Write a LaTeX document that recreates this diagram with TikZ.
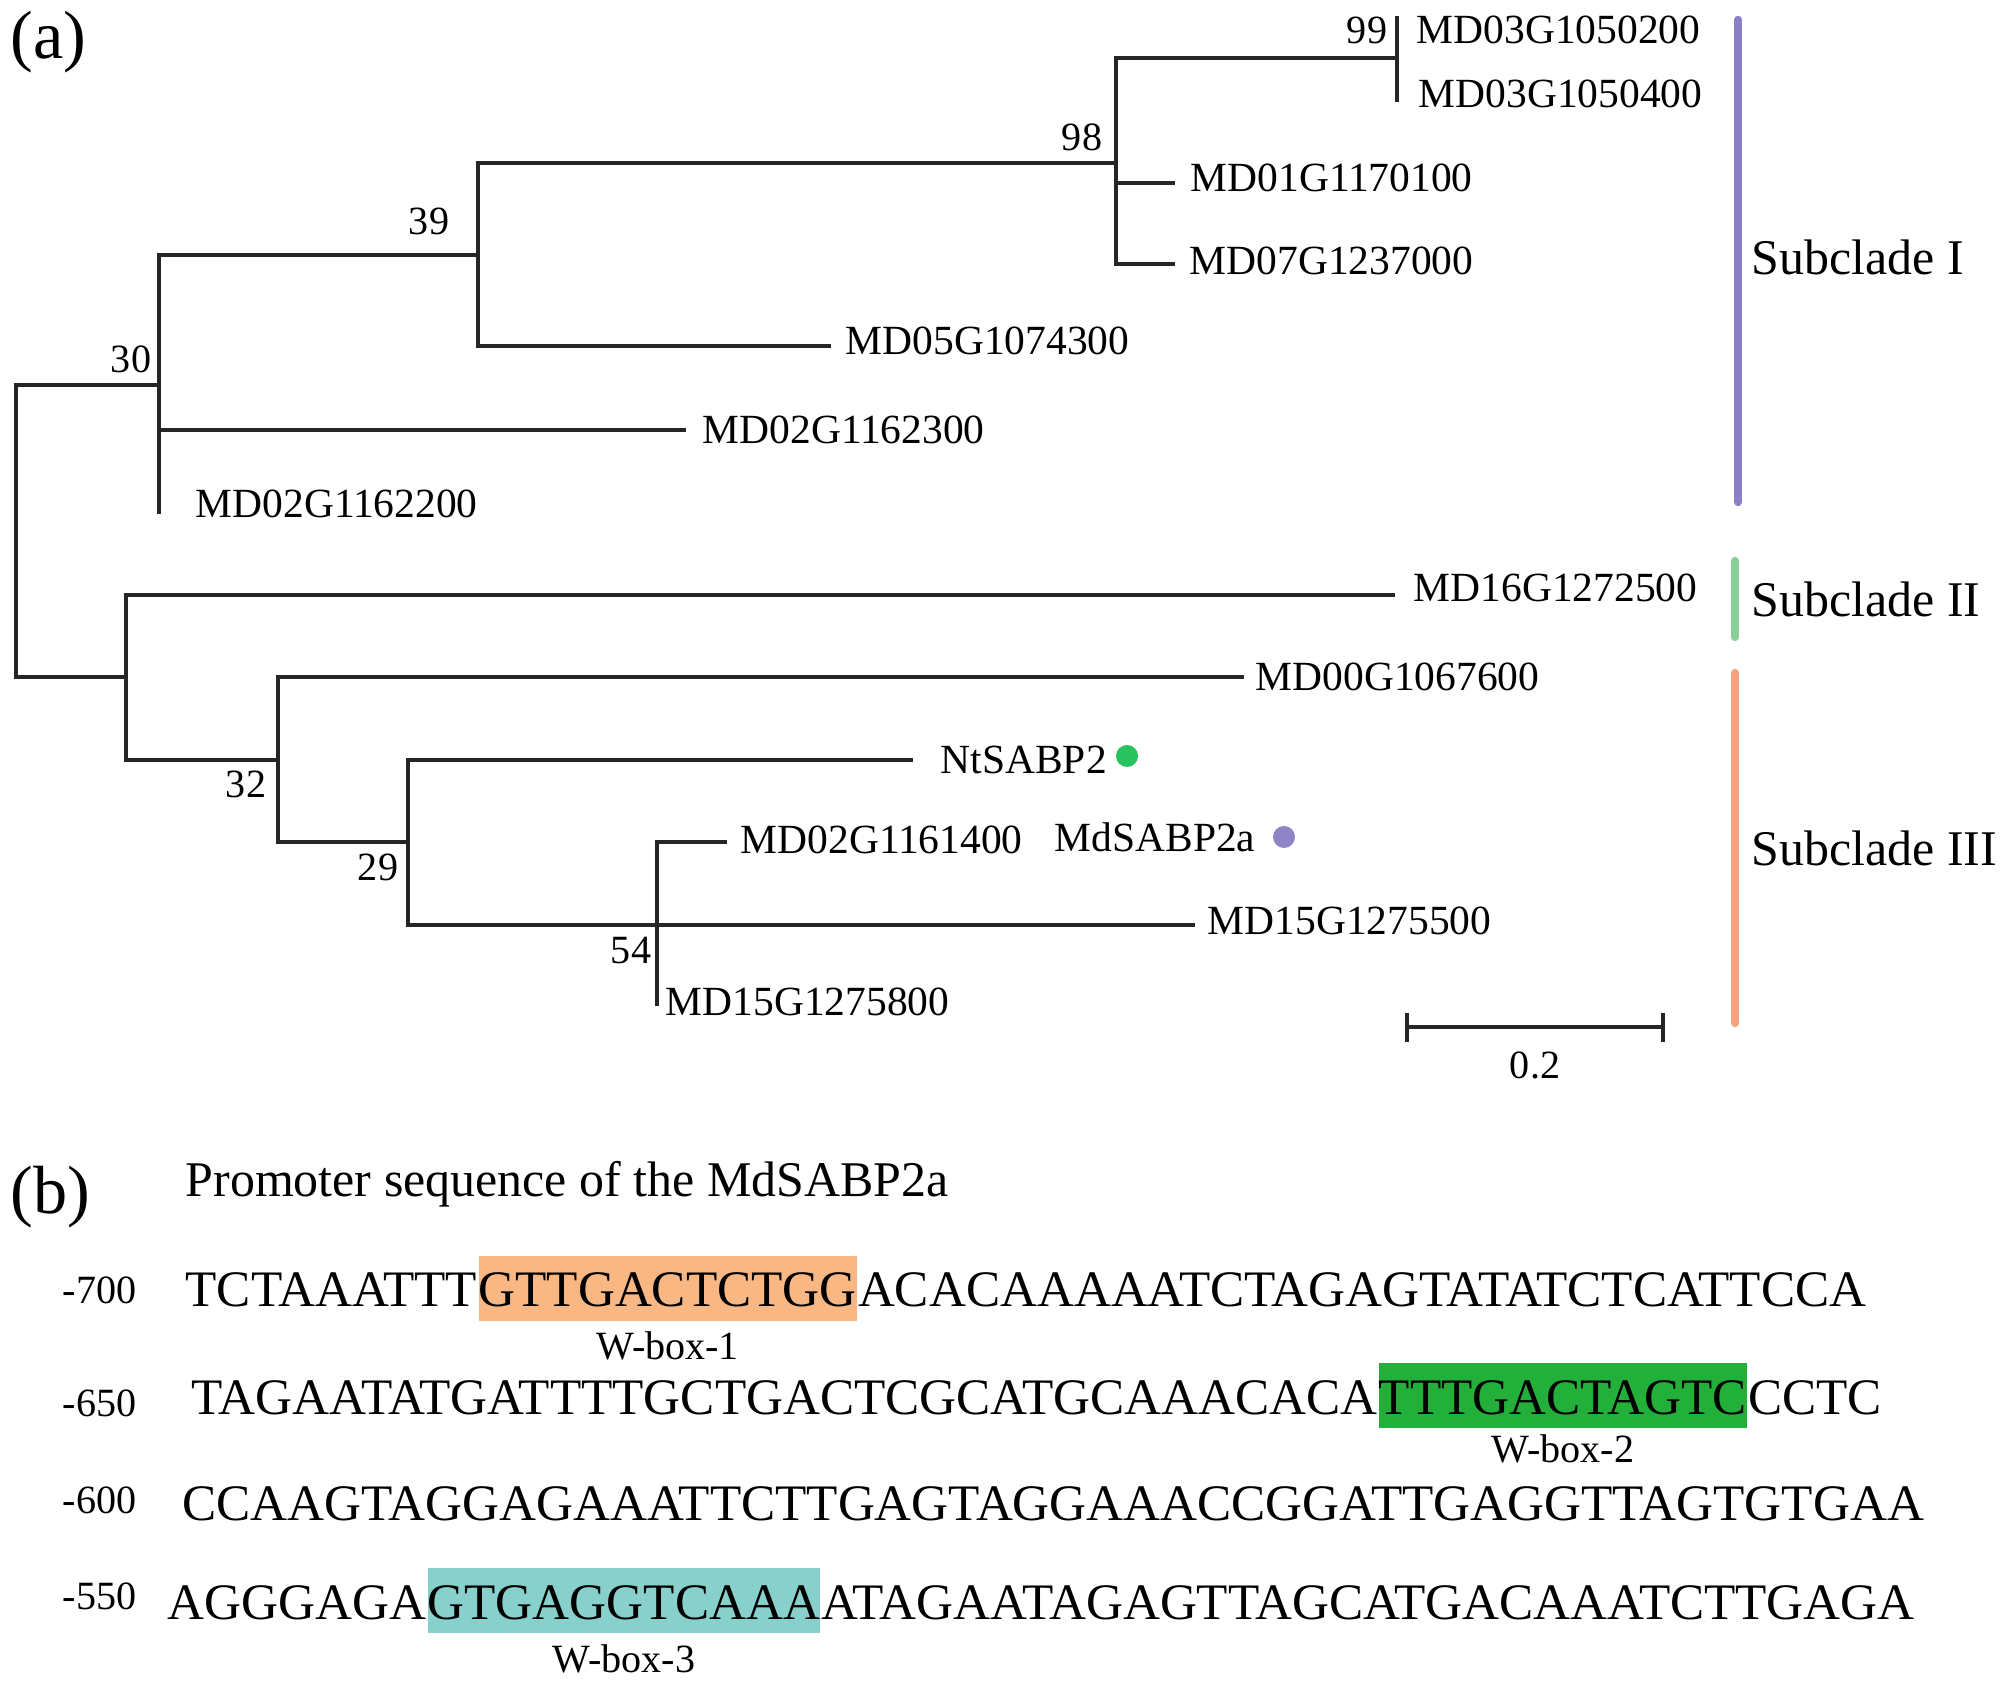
\documentclass[tikz,border=0pt]{standalone}
\usepackage{fontspec}
\setmainfont{Liberation Serif}
\usetikzlibrary{positioning}
\definecolor{cladeOne}{HTML}{8B80C8}
\definecolor{cladeTwo}{HTML}{88CF98}
\definecolor{cladeThree}{HTML}{F6A17F}
\definecolor{dotGreen}{HTML}{27C35F}
\definecolor{dotPurple}{HTML}{8E84C6}
\definecolor{boxOrange}{HTML}{F9B784}
\definecolor{boxGreen}{HTML}{22B03A}
\definecolor{boxTeal}{HTML}{88D0CB}
\newcommand{\smallsz}{\fontsize{11.4}{13}\selectfont}
\newcommand{\leafsz}{\fontsize{11.8}{13}\selectfont}
\newcommand{\bigsz}{\fontsize{14.2}{17}\selectfont}
\newcommand{\seqsz}{\fontsize{14.55}{17}\selectfont}
\newcommand{\panelsz}{\fontsize{19.4}{22}\selectfont}

\begin{document}
\begin{tikzpicture}[x=0.01cm,y=-0.01cm,
  branch/.style={line width=1.1pt,draw=black!85},
  leaf/.style={anchor=west,inner sep=0pt,font=\leafsz},
  boot/.style={inner sep=0pt,font=\smallsz},
  cladebar/.style={line width=2.4pt,line cap=round},
  cladelab/.style={anchor=west,inner sep=0pt,font=\bigsz},
  seqtxt/.style={anchor=base west,inner sep=0pt,font=\seqsz},
  wbox/.style={seqtxt,text height=0.51cm,text depth=0.14cm},
  wlab/.style={inner sep=0pt,font=\smallsz},
  poslab/.style={anchor=base east,inner sep=0pt,font=\smallsz},
  tag/.style={circle,inner sep=0pt,minimum size=0.22cm}]
  \useasboundingbox (0,0) rectangle (2000,1683);

  % (a) tree
  \node[anchor=base west,inner sep=0pt,font=\panelsz] (pa) at (10,59) {(a)};
  \coordinate (root) at (16,531);
  \coordinate (n30) at (159,385);
  \coordinate (n39) at (478,255);
  \coordinate (n98) at (1116,163);
  \coordinate (n99) at (1397,58);
  \coordinate (nB) at (126,677);
  \coordinate (n32) at (278,760);
  \coordinate (n29) at (408,842);
  \coordinate (n54) at (657,925);
  \coordinate (e0200) at (1397,16);
  \coordinate (e0400) at (1397,102);
  \coordinate (e0100) at (1175,183);
  \coordinate (e0700) at (1175,264);
  \coordinate (e4300) at (831,346);
  \coordinate (e2300) at (686,430);
  \coordinate (e2200) at (159,514);
  \coordinate (e2500) at (1395,595);
  \coordinate (e7600) at (1244,677);
  \coordinate (eNt) at (913,760);
  \coordinate (e1400) at (727,842);
  \coordinate (e5500) at (1195,925);
  \coordinate (e5800) at (657,1006);

  \foreach \a/\b in {root/n30,root/nB,n30/n39,n30/e2300,n30/e2200,
                     n39/n98,n39/e4300,n98/n99,n98/e0100,n98/e0700,
                     n99/e0200,n99/e0400,nB/e2500,nB/n32,n32/e7600,
                     n32/n29,n29/eNt,n29/n54,n54/e1400,n54/e5500,n54/e5800}
    \draw[branch] (\a) |- (\b);

  \node[leaf] (g0200) at (1416,30) {MD03G1050200};
  \node[leaf] (g0400) at (1418,94) {MD03G1050400};
  \node[leaf,right=0.15cm of e0100,yshift=0.05cm] (g0100) {MD01G1170100};
  \node[leaf,right=0.14cm of e0700,yshift=0.03cm] (g0700) {MD07G1237000};
  \node[leaf,right=0.14cm of e4300,yshift=0.05cm] (g4300) {MD05G1074300};
  \node[leaf,right=0.16cm of e2300] (g2300) {MD02G1162300};
  \node[leaf] (g2200) at (195,504) {MD02G1162200};
  \node[leaf] (g2500) at (1413,588) {MD16G1272500};
  \node[leaf,right=0.11cm of e7600] (g7600) {MD00G1067600};
  \node[leaf,right=0.27cm of eNt] (gNt) {NtSABP2};
  \node[leaf,right=0.13cm of e1400,yshift=0.02cm] (g1400) {MD02G1161400};
  \node[leaf] (gMd) at (1054,837) {MdSABP2a};
  \node[leaf,right=0.12cm of e5500,yshift=0.04cm] (g5500) {MD15G1275500};
  \node[leaf] (g5800) at (665,1002) {MD15G1275800};
  \node[tag,fill=dotGreen] (dNt) at (1127,756) {};
  \node[tag,fill=dotPurple] (dMd) at (1284,837) {};

  \node[boot] (b30) at (131,359) {30};
  \node[boot] (b39) at (429,221) {39};
  \node[boot] (b98) at (1082,137) {98};
  \node[boot] (b99) at (1367,30) {99};
  \node[boot] (b32) at (246,784) {32};
  \node[boot] (b29) at (378,867) {29};
  \node[boot] (b54) at (631,951) {54};

  % subclade bars
  \draw[cladebar,cladeOne] (1738,20) -- (1738,502);
  \draw[cladebar,cladeTwo] (1735,561) -- (1735,637);
  \draw[cladebar,cladeThree] (1735,673) -- (1735,1023);
  \node[cladelab] (cl1) at (1751,257) {Subclade I};
  \node[cladelab] (cl2) at (1751,599) {Subclade II};
  \node[cladelab] (cl3) at (1751,848) {Subclade III};

  % scale bar
  \coordinate (sbL) at (1407,1027);
  \coordinate (sbR) at (1663,1027);
  \draw[branch] (sbL) -- (sbR);
  \draw[branch] ([yshift=0.14cm]sbL) -- ([yshift=-0.15cm]sbL);
  \draw[branch] ([yshift=0.14cm]sbR) -- ([yshift=-0.15cm]sbR);
  \path (sbL) -- (sbR) node[midway,below=0.24cm,boot] (sblab) {0.2};

  % (b) promoter
  \node[anchor=base west,inner sep=0pt,font=\panelsz] (pb) at (10,1213) {(b)};
  \node[anchor=base west,inner sep=0pt,font=\bigsz] (title) at (185,1196)
    {Promoter sequence of the MdSABP2a};

  \node[poslab] (p700) at (137,1304) {-700};
  \node[poslab] (p650) at (137,1416) {-650};
  \node[poslab] (p600) at (137,1513) {-600};
  \node[poslab] (p550) at (137,1609) {-550};

  \node[seqtxt] (s1a) at (185,1307) {TCTAAATTT};
  \node[wbox,fill=boxOrange] (s1b) at (s1a.base east) {GTTGACTCTGG};
  \node[seqtxt] (s1c) at (s1b.base east) {ACACAAAAATCTAGAGTATATCTCATTCCA};
  \node[wlab,below=0.09cm of s1b] (w1) {W-box-1};

  \node[seqtxt] (s2a) at (191,1414) {TAGAATATGATTTTGCTGACTCGCATGCAAACACA};
  \node[wbox,fill=boxGreen] (s2b) at (s2a.base east) {TTTGACTAGTC};
  \node[seqtxt] (s2c) at (s2b.base east) {CCTC};
  \node[wlab,below=0.05cm of s2b] (w2) {W-box-2};

  \node[seqtxt] (s3a) at (182,1520) {CCAAGTAGGAGAAATTCTTGAGTAGGAAACCGGATTGAGGTTAGTGTGAA};

  \node[seqtxt] (s4a) at (167,1619) {AGGGAGA};
  \node[wbox,fill=boxTeal] (s4b) at (s4a.base east) {GTGAGGTCAAA};
  \node[seqtxt] (s4c) at (s4b.base east) {ATAGAATAGAGTTAGCATGACAAATCTTGAGA};
  \node[wlab,below=0.1cm of s4b] (w3) {W-box-3};
\end{tikzpicture}
\end{document}
